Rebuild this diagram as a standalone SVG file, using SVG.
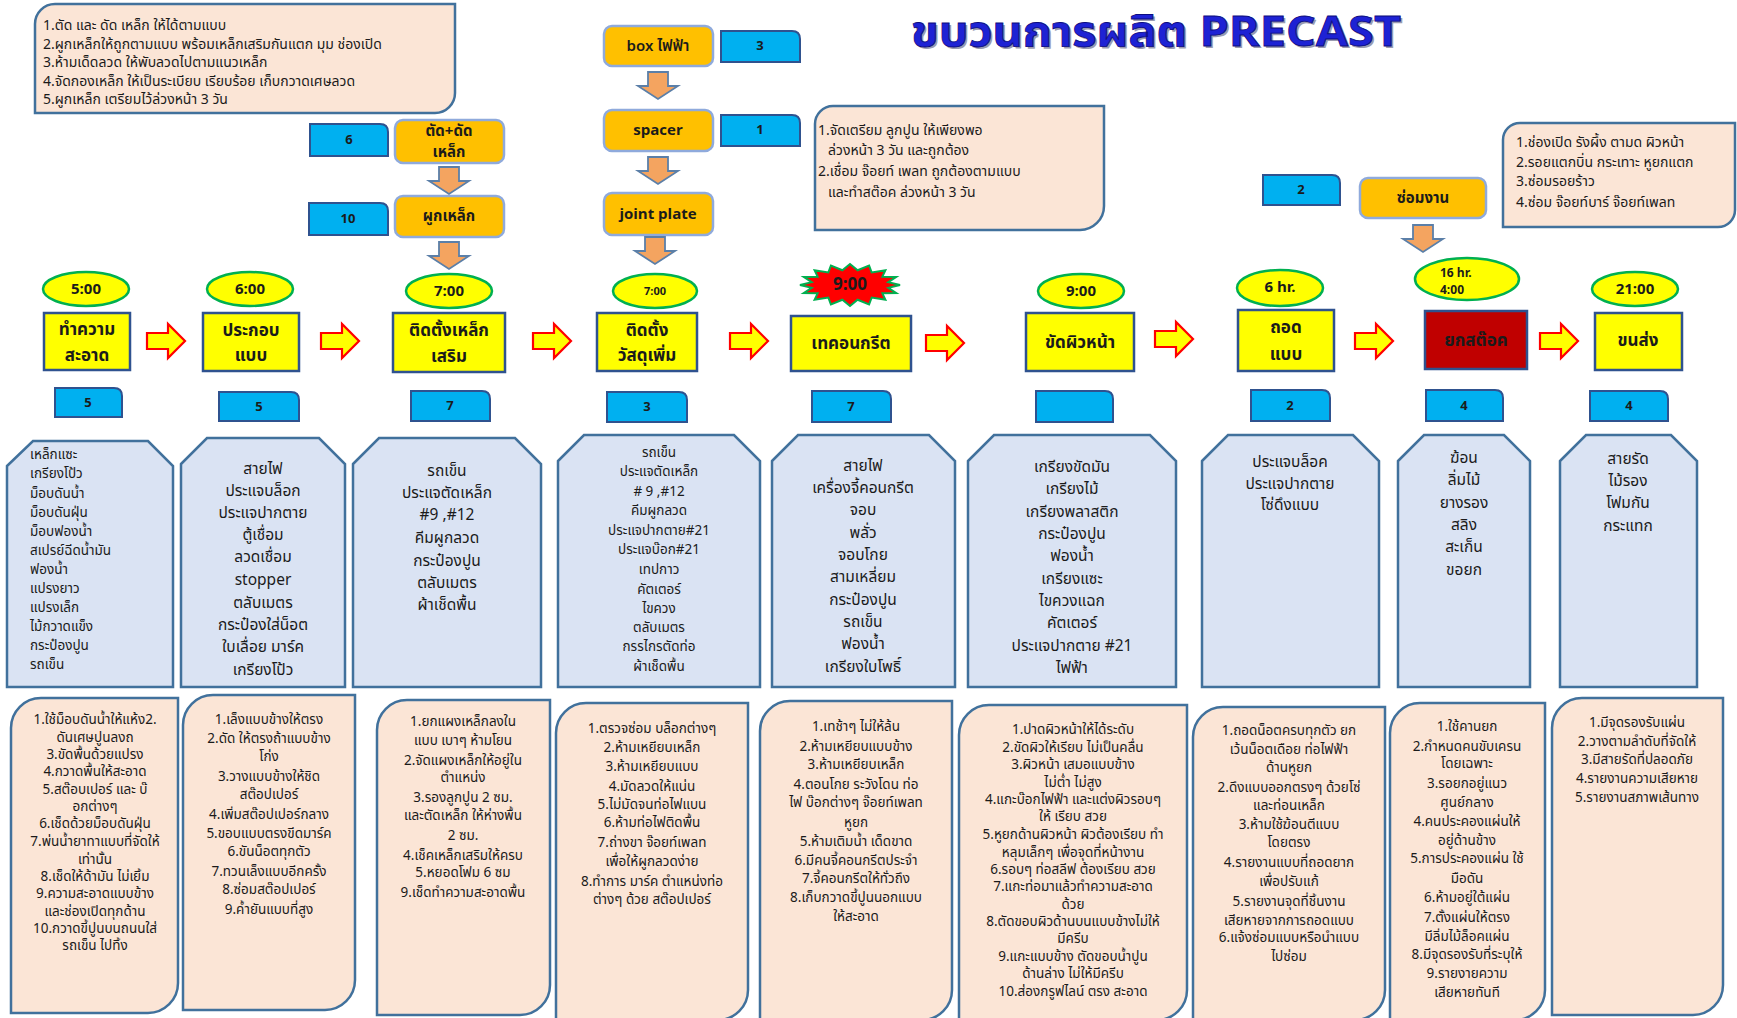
<svg xmlns="http://www.w3.org/2000/svg" xmlns:xlink="http://www.w3.org/1999/xlink" width="1737" height="1018" viewBox="0 0 1737 1018">
<style>
  text { font-family: "Noto Sans Thai", "Noto Sans", "DejaVu Sans", sans-serif; fill: #1b1b1b; dominant-baseline: central; }
  .note { fill: #FBE5D6; stroke: #41719C; stroke-width: 2.5; }
  .equip { fill: #DAE3F3; stroke: #41719C; stroke-width: 2.5; }
  .task { fill: #FFFF00; stroke: #2F528F; stroke-width: 2.5; }
  .task-red { fill: #C00000; stroke: #2F528F; stroke-width: 2.5; }
  .time { fill: #FFFF00; stroke: #00B050; stroke-width: 2.5; }
  .tag { fill: #00B0F0; stroke: #2F528F; stroke-width: 2; }
  .sub { fill: #FFC000; stroke: #8FAADC; stroke-width: 2.5; }
  .rarr { fill: #FFFF00; stroke: #FF0000; stroke-width: 2.2; }
  .darr { fill: #F4A460; stroke: #5B7FA8; stroke-width: 1.8; }
  .tt { font-size: 17px; font-weight: bold; text-anchor: middle; }
  .tm { font-size: 15px; font-weight: bold; text-anchor: middle; }
  .num { font-size: 13px; font-weight: bold; text-anchor: middle; }
  .st { font-size: 15px; font-weight: bold; text-anchor: middle; }
  .nt { font-size: 14px; }
  .eq { font-size: 15.5px; text-anchor: middle; }
  .eqs { font-size: 13.5px; }
  .bt { font-size: 13.5px; text-anchor: middle; }
  .title { font-size: 42px; font-weight: bold; dominant-baseline: alphabetic; }
</style>
<defs>
  <path id="rarrow" d="M-19,-8 H2 V-17 L19,0 L2,17 V8 H-19 Z"/>
  <path id="darrow" d="M-10,0 H10 V14 H20 L0,27 L-20,14 H-10 Z"/>
</defs>
<rect width="1737" height="1018" fill="#FFFFFF"/>

<!-- title with a soft drop shadow -->
<g id="title">
  <text class="title" x="913" y="48" textLength="490" lengthAdjust="spacingAndGlyphs" style="fill:#4a4a70;opacity:0.55">ขบวนการผลิต PRECAST</text>
  <text class="title" x="911" y="46" textLength="490" lengthAdjust="spacingAndGlyphs" style="fill:#1E22D4;stroke:#0D0D80;stroke-width:0.8">ขบวนการผลิต PRECAST</text>
</g>

<!-- notes -->
<g id="note-steel">
  <path class="note" d="M35,24 A20,20 0 0 1 55,4 H455 V93 A20,20 0 0 1 435,113 H35 Z"/>
  <text class="nt" x="43" y="25">1.ตัด และ ดัด เหล็ก ให้ได้ตามแบบ</text>
  <text class="nt" x="43" y="44">2.ผูกเหล็กให้ถูกตามแบบ พร้อมเหล็กเสริมกันแตก มุม ช่องเปิด</text>
  <text class="nt" x="43" y="62">3.ห้ามเด็ดลวด ให้พับลวดไปตามแนวเหล็ก</text>
  <text class="nt" x="43" y="81">4.จัดกองเหล็ก ให้เป็นระเบียบ เรียบร้อย เก็บกวาดเศษลวด</text>
  <text class="nt" x="43" y="99">5.ผูกเหล็ก  เตรียมไว้ล่วงหน้า 3 วัน</text>
</g>
<g id="note-parts">
  <path class="note" d="M815,124 A18,18 0 0 1 833,106 H1104 V206 A24,24 0 0 1 1080,230 H815 Z"/>
  <text class="nt" x="818" y="130">1.จัดเตรียม ลูกปูน ให้เพียงพอ</text>
  <text class="nt" x="828" y="150">ล่วงหน้า 3 วัน และถูกต้อง</text>
  <text class="nt" x="818" y="171">2.เชื่อม จ๊อยท์ เพลท ถูกต้องตามแบบ</text>
  <text class="nt" x="828" y="192">และทำสต๊อค ล่วงหน้า 3 วัน</text>
</g>
<g id="note-repair">
  <path class="note" d="M1503,140 A17,17 0 0 1 1520,123 H1735 V210 A17,17 0 0 1 1718,227 H1503 Z"/>
  <text class="nt" x="1516" y="142">1.ช่องเปิด รังผึ้ง ตามด ผิวหน้า</text>
  <text class="nt" x="1516" y="162">2.รอยแตกบิ่น กระเทาะ หูยกแตก</text>
  <text class="nt" x="1516" y="181">3.ซ่อมรอยร้าว</text>
  <text class="nt" x="1516" y="202">4.ซ่อม จ๊อยท์บาร์ จ๊อยท์เพลท</text>
</g>

<!-- side sub-steps -->
<g id="sub-box">
  <rect class="sub" x="604" y="26" width="109" height="40" rx="8"/>
  <text class="st" x="658" y="46" style="font-weight:600">box ไฟฟ้า</text>
  <path class="tag" d="M721,31 H792 Q800,31 800,39 V62 H721 Z"/>
  <text class="num" x="760" y="46">3</text>
</g>
<g id="sub-spacer">
  <rect class="sub" x="604" y="110" width="109" height="41" rx="8"/>
  <text class="st" x="658" y="130">spacer</text>
  <path class="tag" d="M721,115 H792 Q800,115 800,123 V146 H721 Z"/>
  <text class="num" x="760" y="130">1</text>
</g>
<g id="sub-joint">
  <rect class="sub" x="604" y="193" width="109" height="42" rx="8"/>
  <text class="st" x="658" y="214">joint plate</text>
</g>
<g id="sub-cut">
  <rect class="sub" x="395" y="120" width="109" height="43" rx="8"/>
  <text class="st" x="449" y="131">ตัด+ดัด</text>
  <text class="st" x="449" y="152">เหล็ก</text>
  <path class="tag" d="M310,124 H380 Q388,124 388,132 V156 H310 Z"/>
  <text class="num" x="349" y="140">6</text>
</g>
<g id="sub-tie">
  <rect class="sub" x="395" y="196" width="109" height="41" rx="8"/>
  <text class="st" x="449" y="216">ผูกเหล็ก</text>
  <path class="tag" d="M309,203 H380 Q388,203 388,211 V235 H309 Z"/>
  <text class="num" x="348" y="219">10</text>
</g>
<g id="sub-repair">
  <rect class="sub" x="1360" y="178" width="126" height="40" rx="8"/>
  <text class="st" x="1423" y="198">ซ่อมงาน</text>
  <path class="tag" d="M1263,175 H1332 Q1340,175 1340,183 V205 H1263 Z"/>
  <text class="num" x="1301" y="190">2</text>
</g>

<!-- main process steps -->
<g id="step-clean">
  <ellipse class="time" cx="86" cy="289" rx="43" ry="17"/>
  <text class="tm" x="86" y="289">5:00</text>
  <rect class="task" x="44" y="313" width="86" height="57"/>
  <text class="tt" x="87" y="330">ทำความ</text>
  <text class="tt" x="87" y="356">สะอาด</text>
  <path class="tag" d="M55,388 H114 Q122,388 122,396 V417 H55 Z"/>
  <text class="num" x="88" y="403">5</text>
</g>
<g id="step-form">
  <ellipse class="time" cx="250" cy="289" rx="43" ry="17"/>
  <text class="tm" x="250" y="289">6:00</text>
  <rect class="task" x="203" y="313" width="96" height="58"/>
  <text class="tt" x="251" y="331">ประกอบ</text>
  <text class="tt" x="251" y="356">แบบ</text>
  <path class="tag" d="M219,392 H291 Q299,392 299,400 V421 H219 Z"/>
  <text class="num" x="259" y="407">5</text>
</g>
<g id="step-rebar">
  <ellipse class="time" cx="449" cy="291" rx="43" ry="17"/>
  <text class="tm" x="449" y="291">7:00</text>
  <rect class="task" x="393" y="313" width="112" height="59"/>
  <text class="tt" x="449" y="331">ติดตั้งเหล็ก</text>
  <text class="tt" x="449" y="357">เสริม</text>
  <path class="tag" d="M411,391 H482 Q490,391 490,399 V421 H411 Z"/>
  <text class="num" x="450" y="406">7</text>
</g>
<g id="step-parts">
  <ellipse class="time" cx="655" cy="291" rx="42" ry="17"/>
  <text class="tm" x="655" y="291" style="font-size:11px">7:00</text>
  <rect class="task" x="597" y="313" width="100" height="58"/>
  <text class="tt" x="647" y="331">ติดตั้ง</text>
  <text class="tt" x="647" y="356">วัสดุเพิ่ม</text>
  <path class="tag" d="M607,392 H679 Q687,392 687,400 V422 H607 Z"/>
  <text class="num" x="647" y="407">3</text>
</g>
<g id="step-pour">
  <polygon points="900,285 888.3,287.9 896.2,293 882.4,293.3 885.4,299.8 871.7,297.5 869.1,304.4 857.6,299.7 850,306 842.4,299.7 830.9,304.4 828.3,297.5 814.6,299.8 817.6,293.3 803.8,293 811.7,287.9 800,285 811.7,282.1 803.8,277 817.6,276.7 814.6,270.2 828.3,272.5 830.9,265.6 842.4,270.3 850,264 857.6,270.3 869.1,265.6 871.7,272.5 885.4,270.2 882.4,276.7 896.2,277 888.3,282.1" fill="#FF0000" stroke="#00B050" stroke-width="2"/>
  <text class="tm" x="850" y="285" style="font-size:17px">9:00</text>
  <rect class="task" x="791" y="316" width="120" height="55"/>
  <text class="tt" x="851" y="344">เทคอนกรีต</text>
  <path class="tag" d="M812,391 H883 Q891,391 891,399 V422 H812 Z"/>
  <text class="num" x="851" y="407">7</text>
</g>
<g id="step-finish">
  <ellipse class="time" cx="1081" cy="291" rx="43" ry="17"/>
  <text class="tm" x="1081" y="291">9:00</text>
  <rect class="task" x="1026" y="313" width="108" height="58"/>
  <text class="tt" x="1080" y="343">ขัดผิวหน้า</text>
  <path class="tag" d="M1036,391 H1105 Q1113,391 1113,399 V422 H1036 Z"/>
</g>
<g id="step-strip">
  <ellipse class="time" cx="1280" cy="288" rx="43" ry="18"/>
  <text class="tm" x="1280" y="287">6 hr.</text>
  <rect class="task" x="1238" y="310" width="96" height="61"/>
  <text class="tt" x="1286" y="328">ถอด</text>
  <text class="tt" x="1286" y="355">แบบ</text>
  <path class="tag" d="M1251,390 H1322 Q1330,390 1330,398 V421 H1251 Z"/>
  <text class="num" x="1290" y="406">2</text>
</g>
<g id="step-stock">
  <ellipse class="time" cx="1467" cy="279" rx="52" ry="21"/>
  <text x="1440" y="273" style="font-size:12px;font-weight:bold">16 hr.</text>
  <text x="1440" y="290" style="font-size:12px;font-weight:bold">4:00</text>
  <rect class="task-red" x="1425" y="311" width="102" height="58"/>
  <text class="tt" x="1476" y="341">ยกสต๊อค</text>
  <path class="tag" d="M1426,390 H1495 Q1503,390 1503,398 V421 H1426 Z"/>
  <text class="num" x="1464" y="406">4</text>
</g>
<g id="step-ship">
  <ellipse class="time" cx="1635" cy="289" rx="43" ry="17"/>
  <text class="tm" x="1635" y="289">21:00</text>
  <rect class="task" x="1595" y="313" width="87" height="57"/>
  <text class="tt" x="1638" y="341">ขนส่ง</text>
  <path class="tag" d="M1590,391 H1660 Q1668,391 1668,399 V421 H1590 Z"/>
  <text class="num" x="1629" y="406">4</text>
</g>

<!-- tools per step -->
<g id="tools-clean">
  <path class="equip" d="M7,466 L33,441 H148 L173,466 V687 H7 Z"/>
  <text class="eqs" x="30" y="455">เหล็กแซะ</text>
  <text class="eqs" x="30" y="474">เกรียงโป้ว</text>
  <text class="eqs" x="30" y="494">ม็อบดันน้ำ</text>
  <text class="eqs" x="30" y="513">ม็อบดันฝุ่น</text>
  <text class="eqs" x="30" y="532">ม็อบฟองน้ำ</text>
  <text class="eqs" x="30" y="551">สเปรย์ฉีดน้ำมัน</text>
  <text class="eqs" x="30" y="570">ฟองน้ำ</text>
  <text class="eqs" x="30" y="589">แปรงยาว</text>
  <text class="eqs" x="30" y="608">แปรงเล็ก</text>
  <text class="eqs" x="30" y="627">ไม้กวาดแข็ง</text>
  <text class="eqs" x="30" y="646">กระป๋องปูน</text>
  <text class="eqs" x="30" y="665">รถเข็น</text>
</g>
<g id="tools-form">
  <path class="equip" d="M181,464 L207,438 H319 L345,464 V687 H181 Z"/>
  <text class="eq" x="263" y="469">สายไฟ</text>
  <text class="eq" x="263" y="491">ประแจบล็อก</text>
  <text class="eq" x="263" y="513">ประแจปากตาย</text>
  <text class="eq" x="263" y="535">ตู้เชื่อม</text>
  <text class="eq" x="263" y="557">ลวดเชื่อม</text>
  <text class="eq" x="263" y="580">stopper</text>
  <text class="eq" x="263" y="603">ตลับเมตร</text>
  <text class="eq" x="263" y="625">กระป๋องใส่น็อต</text>
  <text class="eq" x="263" y="647">ใบเลื่อย มาร์ค</text>
  <text class="eq" x="263" y="670">เกรียงโป้ว</text>
</g>
<g id="tools-rebar">
  <path class="equip" d="M353,464 L379,438 H515 L541,464 V687 H353 Z"/>
  <text class="eq" x="447" y="471">รถเข็น</text>
  <text class="eq" x="447" y="493">ประแจตัดเหล็ก</text>
  <text class="eq" x="447" y="515">#9 ,#12</text>
  <text class="eq" x="447" y="538">คีมผูกลวด</text>
  <text class="eq" x="447" y="561">กระป๋องปูน</text>
  <text class="eq" x="447" y="583">ตลับเมตร</text>
  <text class="eq" x="447" y="605">ผ้าเช็ดพื้น</text>
</g>
<g id="tools-parts">
  <path class="equip" d="M558,461 L584,435 H734 L760,461 V687 H558 Z"/>
  <text class="eqs" x="659" y="453" text-anchor="middle">รถเข็น</text>
  <text class="eqs" x="659" y="472" text-anchor="middle">ประแจตัดเหล็ก</text>
  <text class="eqs" x="659" y="492" text-anchor="middle"># 9 ,#12</text>
  <text class="eqs" x="659" y="511" text-anchor="middle">คีมผูกลวด</text>
  <text class="eqs" x="659" y="531" text-anchor="middle">ประแจปากตาย#21</text>
  <text class="eqs" x="659" y="550" text-anchor="middle">ประแจบ๊อก#21</text>
  <text class="eqs" x="659" y="570" text-anchor="middle">เทปกาว</text>
  <text class="eqs" x="659" y="590" text-anchor="middle">คัตเตอร์</text>
  <text class="eqs" x="659" y="609" text-anchor="middle">ไขควง</text>
  <text class="eqs" x="659" y="628" text-anchor="middle">ตลับเมตร</text>
  <text class="eqs" x="659" y="647" text-anchor="middle">กรรไกรตัดท่อ</text>
  <text class="eqs" x="659" y="667" text-anchor="middle">ผ้าเช็ดพื้น</text>
</g>
<g id="tools-pour">
  <path class="equip" d="M772,461 L798,435 H929 L955,461 V687 H772 Z"/>
  <text class="eq" x="863" y="466">สายไฟ</text>
  <text class="eq" x="863" y="488">เครื่องจี้คอนกรีต</text>
  <text class="eq" x="863" y="510">จอบ</text>
  <text class="eq" x="863" y="533">พลั่ว</text>
  <text class="eq" x="863" y="555">จอบโกย</text>
  <text class="eq" x="863" y="577">สามเหลี่ยม</text>
  <text class="eq" x="863" y="600">กระป๋องปูน</text>
  <text class="eq" x="863" y="622">รถเข็น</text>
  <text class="eq" x="863" y="644">ฟองน้ำ</text>
  <text class="eq" x="863" y="667">เกรียงใบโพธิ์</text>
</g>
<g id="tools-finish">
  <path class="equip" d="M968,461 L994,435 H1150 L1176,461 V687 H968 Z"/>
  <text class="eq" x="1072" y="467">เกรียงขัดมัน</text>
  <text class="eq" x="1072" y="489">เกรียงไม้</text>
  <text class="eq" x="1072" y="512">เกรียงพลาสติก</text>
  <text class="eq" x="1072" y="534">กระป๋องปูน</text>
  <text class="eq" x="1072" y="556">ฟองน้ำ</text>
  <text class="eq" x="1072" y="579">เกรียงแซะ</text>
  <text class="eq" x="1072" y="601">ไขควงแฉก</text>
  <text class="eq" x="1072" y="623">คัตเตอร์</text>
  <text class="eq" x="1072" y="646">ประแจปากตาย #21</text>
  <text class="eq" x="1072" y="668">ไฟฟ้า</text>
</g>
<g id="tools-strip">
  <path class="equip" d="M1202,461 L1228,435 H1353 L1379,461 V687 H1202 Z"/>
  <text class="eq" x="1290" y="462">ประแจบล็อค</text>
  <text class="eq" x="1290" y="484">ประแจปากตาย</text>
  <text class="eq" x="1290" y="505">โซ่ดึงแบบ</text>
</g>
<g id="tools-stock">
  <path class="equip" d="M1398,461 L1424,435 H1504 L1530,461 V687 H1398 Z"/>
  <text class="eq" x="1464" y="458">ฆ้อน</text>
  <text class="eq" x="1464" y="480">ลิ่มไม้</text>
  <text class="eq" x="1464" y="503">ยางรอง</text>
  <text class="eq" x="1464" y="525">สลิง</text>
  <text class="eq" x="1464" y="547">สะเก็น</text>
  <text class="eq" x="1464" y="570">ขอยก</text>
</g>
<g id="tools-ship">
  <path class="equip" d="M1560,461 L1586,435 H1671 L1697,461 V687 H1560 Z"/>
  <text class="eq" x="1628" y="459">สายรัด</text>
  <text class="eq" x="1628" y="481">ไม้รอง</text>
  <text class="eq" x="1628" y="503">โฟมกัน</text>
  <text class="eq" x="1628" y="526">กระแทก</text>
</g>

<!-- work instructions per step -->
<g id="rules-clean">
  <path class="note" d="M11,728 A30,30 0 0 1 41,698 H178 V983 A30,30 0 0 1 148,1013 H11 Z"/>
  <text class="bt" x="95" y="720">1.ใช้ม็อบดันน้ำให้แห้ง2.</text>
  <text class="bt" x="95" y="738">ดันเศษปูนลงถ</text>
  <text class="bt" x="95" y="755">3.ขัดพื้นด้วยแปรง</text>
  <text class="bt" x="95" y="772">4.กวาดพื้นให้สะอาด</text>
  <text class="bt" x="95" y="790">5.สต๊อบเปอร์ และ    บ๊</text>
  <text class="bt" x="95" y="807">อกต่างๆ</text>
  <text class="bt" x="95" y="824">6.เช็ดด้วยม็อบดันฝุ่น</text>
  <text class="bt" x="95" y="842">7.พ่นน้ำยาทาแบบที่จัดให้</text>
  <text class="bt" x="95" y="860">เท่านั้น</text>
  <text class="bt" x="95" y="877">8.เช็ดให้ด้ามัน ไม่เยิ้ม</text>
  <text class="bt" x="95" y="894">9.ความสะอาดแบบข้าง</text>
  <text class="bt" x="95" y="912">และช่องเปิดทุกด้าน</text>
  <text class="bt" x="95" y="929">10.กวาดขี้ปูนบนถนนใส่</text>
  <text class="bt" x="95" y="946">รถเข็น ไปทิ้ง</text>
</g>
<g id="rules-form">
  <path class="note" d="M183,725 A30,30 0 0 1 213,695 H355 V980 A30,30 0 0 1 325,1010 H183 Z"/>
  <text class="bt" x="269" y="720">1.เล็งแบบข้างให้ตรง</text>
  <text class="bt" x="269" y="739">2.ดัด ให้ตรงถ้าแบบข้าง</text>
  <text class="bt" x="269" y="757">โก่ง</text>
  <text class="bt" x="269" y="777">3.วางแบบข้างให้ชิด</text>
  <text class="bt" x="269" y="795">สต๊อปเปอร์</text>
  <text class="bt" x="269" y="815">4.เพิ่มสต๊อปเปอร์กลาง</text>
  <text class="bt" x="269" y="834">5.ขอบแบบตรงขีดมาร์ค</text>
  <text class="bt" x="269" y="852">6.ขันน็อตทุกตัว</text>
  <text class="bt" x="269" y="872">7.ทวนเล็งแบบอีกครั้ง</text>
  <text class="bt" x="269" y="890">8.ซ่อมสต๊อปเปอร์</text>
  <text class="bt" x="269" y="910">9.ค้ำยันแบบที่สูง</text>
</g>
<g id="rules-rebar">
  <path class="note" d="M377,730 A30,30 0 0 1 407,700 H550 V985 A30,30 0 0 1 520,1015 H377 Z"/>
  <text class="bt" x="463" y="722">1.ยกแผงเหล็กลงใน</text>
  <text class="bt" x="463" y="741">แบบ เบาๆ ห้ามโยน</text>
  <text class="bt" x="463" y="761">2.จัดแผงเหล็กให้อยู่ใน</text>
  <text class="bt" x="463" y="778">ตำแหน่ง</text>
  <text class="bt" x="463" y="798">3.รองลูกปูน 2 ซม.</text>
  <text class="bt" x="463" y="816">และตัดเหล็ก ให้ห่างพื้น</text>
  <text class="bt" x="463" y="836">2 ซม.</text>
  <text class="bt" x="463" y="856">4.เช็คเหล็กเสริมให้ครบ</text>
  <text class="bt" x="463" y="873">5.หยอดโฟม 6 ซม</text>
  <text class="bt" x="463" y="893">9.เช็ดทำความสะอาดพื้น</text>
</g>
<g id="rules-parts">
  <path class="note" d="M556,733 A30,30 0 0 1 586,703 H748 V990 A30,30 0 0 1 718,1020 H556 Z"/>
  <text class="bt" x="652" y="729">1.ตรวจซ่อม บล็อกต่างๆ</text>
  <text class="bt" x="652" y="748">2.ห้ามเหยียบเหล็ก</text>
  <text class="bt" x="652" y="767">3.ห้ามเหยียบแบบ</text>
  <text class="bt" x="652" y="787">4.มัดลวดให้แน่น</text>
  <text class="bt" x="652" y="805">5.ไม่มัดจนท่อไฟแบน</text>
  <text class="bt" x="652" y="823">6.ห้ามท่อไฟติดพื้น</text>
  <text class="bt" x="652" y="843">7.ถ่างขา จ๊อยท์เพลท</text>
  <text class="bt" x="652" y="862">เพื่อให้ผูกลวดง่าย</text>
  <text class="bt" x="652" y="882">8.ทำการ มาร์ค ตำแหน่งท่อ</text>
  <text class="bt" x="652" y="900">ต่างๆ ด้วย สต๊อปเปอร์</text>
</g>
<g id="rules-pour">
  <path class="note" d="M760,731 A30,30 0 0 1 790,701 H952 V990 A30,30 0 0 1 922,1020 H760 Z"/>
  <text class="bt" x="856" y="727">1.เทช้าๆ ไม่ให้ล้น</text>
  <text class="bt" x="856" y="747">2.ห้ามเหยียบแบบข้าง</text>
  <text class="bt" x="856" y="765">3.ห้ามเหยียบเหล็ก</text>
  <text class="bt" x="856" y="785">4.ตอนโกย ระวังโดน ท่อ</text>
  <text class="bt" x="856" y="803">ไฟ บ๊อกต่างๆ จ๊อยท์เพลท</text>
  <text class="bt" x="856" y="823">หูยก</text>
  <text class="bt" x="856" y="842">5.ห้ามเติมน้ำ เด็ดขาด</text>
  <text class="bt" x="856" y="861">6.มีคนจี้คอนกรีตประจำ</text>
  <text class="bt" x="856" y="879">7.จี้คอนกรีตให้ทั่วถึง</text>
  <text class="bt" x="856" y="898">8.เก็บกวาดขี้ปูนนอกแบบ</text>
  <text class="bt" x="856" y="917">ให้สะอาด</text>
</g>
<g id="rules-finish">
  <path class="note" d="M959,735 A30,30 0 0 1 989,705 H1187 V990 A30,30 0 0 1 1157,1020 H959 Z"/>
  <text class="bt" x="1073" y="730">1.ปาดผิวหน้าให้ได้ระดับ</text>
  <text class="bt" x="1073" y="748">2.ขัดผิวให้เรียบ ไม่เป็นคลื่น</text>
  <text class="bt" x="1073" y="765">3.ผิวหน้า เสมอแบบข้าง</text>
  <text class="bt" x="1073" y="783">ไม่ต่ำ ไม่สูง</text>
  <text class="bt" x="1073" y="800">4.แกะบ๊อกไฟฟ้า และแต่งผิวรอบๆ</text>
  <text class="bt" x="1073" y="817">ให้ เรียบ สวย</text>
  <text class="bt" x="1073" y="835">5.หูยกด้านผิวหน้า ผิวต้องเรียบ ทำ</text>
  <text class="bt" x="1073" y="853">หลุมเล็กๆ เพื่อจุดที่หน้างาน</text>
  <text class="bt" x="1073" y="870">6.รอบๆ ท่อสลีฟ ต้องเรียบ สวย</text>
  <text class="bt" x="1073" y="887">7.แกะท่อมาแล้วทำความสะอาด</text>
  <text class="bt" x="1073" y="905">ด้วย</text>
  <text class="bt" x="1073" y="922">8.ตัดขอบผิวด้านบนแบบข้างไม่ให้</text>
  <text class="bt" x="1073" y="939">มีครีบ</text>
  <text class="bt" x="1073" y="957">9.แกะแบบข้าง ตัดขอบน้ำปูน</text>
  <text class="bt" x="1073" y="974">ด้านล่าง ไม่ให้มีครีบ</text>
  <text class="bt" x="1073" y="992">10.ส่องกรูฟไลน์ ตรง สะอาด</text>
</g>
<g id="rules-strip">
  <path class="note" d="M1193,737 A30,30 0 0 1 1223,707 H1385 V990 A30,30 0 0 1 1355,1020 H1193 Z"/>
  <text class="bt" x="1289" y="731">1.ถอดน็อตครบทุกตัว ยก</text>
  <text class="bt" x="1289" y="750">เว้นน็อตเดือย ท่อไฟฟ้า</text>
  <text class="bt" x="1289" y="768">ด้านหูยก</text>
  <text class="bt" x="1289" y="788">2.ดึงแบบออกตรงๆ ด้วยโซ่</text>
  <text class="bt" x="1289" y="806">และท่อนเหล็ก</text>
  <text class="bt" x="1289" y="825">3.ห้ามใช้ฆ้อนตีแบบ</text>
  <text class="bt" x="1289" y="843">โดยตรง</text>
  <text class="bt" x="1289" y="863">4.รายงานแบบที่ถอดยาก</text>
  <text class="bt" x="1289" y="882">เพื่อปรับแก้</text>
  <text class="bt" x="1289" y="902">5.รายงานจุดที่ชิ้นงาน</text>
  <text class="bt" x="1289" y="921">เสียหายจากการถอดแบบ</text>
  <text class="bt" x="1289" y="938">6.แจ้งซ่อมแบบหรือนำแบบ</text>
  <text class="bt" x="1289" y="957">ไปซ่อม</text>
</g>
<g id="rules-stock">
  <path class="note" d="M1390,733 A30,30 0 0 1 1420,703 H1545 V990 A30,30 0 0 1 1515,1020 H1390 Z"/>
  <text class="bt" x="1467" y="727">1.ใช้คานยก</text>
  <text class="bt" x="1467" y="747">2.กำหนดคนขับเครน</text>
  <text class="bt" x="1467" y="764">โดยเฉพาะ</text>
  <text class="bt" x="1467" y="784">3.รอยกอยู่แนว</text>
  <text class="bt" x="1467" y="803">ศูนย์กลาง</text>
  <text class="bt" x="1467" y="822">4.คนประคองแผ่นให้</text>
  <text class="bt" x="1467" y="841">อยู่ด้านข้าง</text>
  <text class="bt" x="1467" y="859">5.การประคองแผ่น ใช้</text>
  <text class="bt" x="1467" y="879">มือดัน</text>
  <text class="bt" x="1467" y="898">6.ห้ามอยู่ใต้แผ่น</text>
  <text class="bt" x="1467" y="918">7.ตั้งแผ่นให้ตรง</text>
  <text class="bt" x="1467" y="937">มีลิ่มไม้ล็อคแผ่น</text>
  <text class="bt" x="1467" y="955">8.มีจุดรองรับที่ระบุให้</text>
  <text class="bt" x="1467" y="974">9.รายงายความ</text>
  <text class="bt" x="1467" y="993">เสียหายทันที</text>
</g>
<g id="rules-ship">
  <path class="note" d="M1552,728 A30,30 0 0 1 1582,698 H1723 V985 A30,30 0 0 1 1693,1015 H1552 Z"/>
  <text class="bt" x="1637" y="723">1.มีจุดรองรับแผ่น</text>
  <text class="bt" x="1637" y="742">2.วางตามลำดับที่จัดให้</text>
  <text class="bt" x="1637" y="760">3.มีสายรัดที่ปลอดภัย</text>
  <text class="bt" x="1637" y="779">4.รายงานความเสียหาย</text>
  <text class="bt" x="1637" y="798">5.รายงานสภาพเส้นทาง</text>
</g>

<!-- connectors -->
<g id="connectors">
  <use xlink:href="#rarrow" class="rarr" transform="translate(166,341)"/>
  <use xlink:href="#rarrow" class="rarr" transform="translate(340,341)"/>
  <use xlink:href="#rarrow" class="rarr" transform="translate(552,341)"/>
  <use xlink:href="#rarrow" class="rarr" transform="translate(749,341)"/>
  <use xlink:href="#rarrow" class="rarr" transform="translate(945,343)"/>
  <use xlink:href="#rarrow" class="rarr" transform="translate(1174,339)"/>
  <use xlink:href="#rarrow" class="rarr" transform="translate(1374,341)"/>
  <use xlink:href="#rarrow" class="rarr" transform="translate(1559,341)"/>
  <use xlink:href="#darrow" class="darr" transform="translate(658,72)"/>
  <use xlink:href="#darrow" class="darr" transform="translate(658,157)"/>
  <use xlink:href="#darrow" class="darr" transform="translate(655,237)"/>
  <use xlink:href="#darrow" class="darr" transform="translate(449,167)"/>
  <use xlink:href="#darrow" class="darr" transform="translate(449,242)"/>
  <use xlink:href="#darrow" class="darr" transform="translate(1423,225)"/>
</g>
</svg>
